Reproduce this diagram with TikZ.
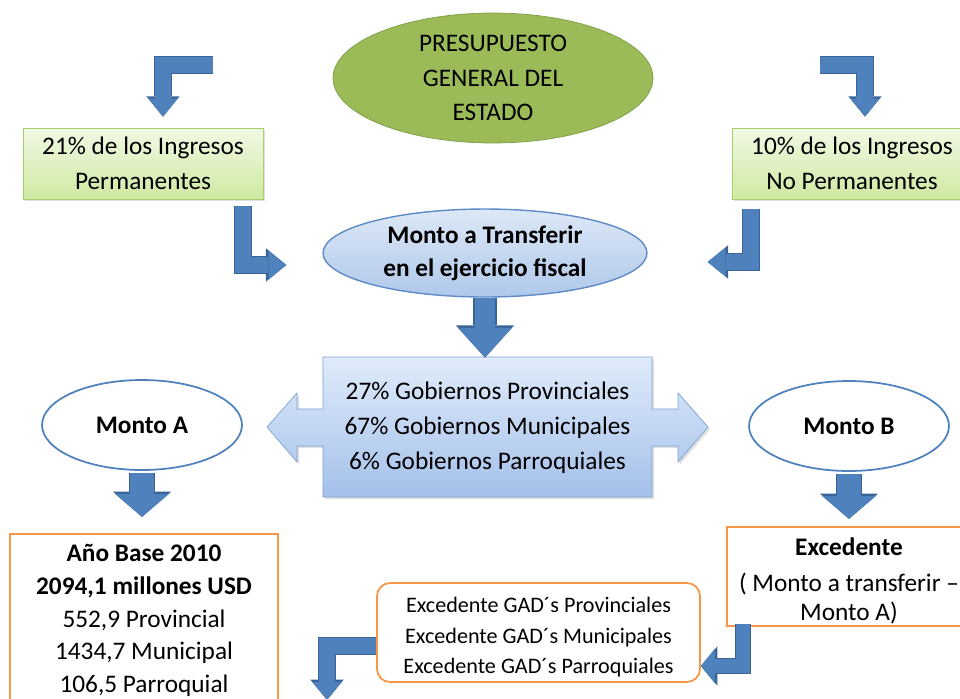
\documentclass[tikz,border=0pt]{standalone}
\usepackage{fontspec}
\setmainfont{Carlito}
\usetikzlibrary{arrows.meta,shapes.geometric,shadows,calc}

\definecolor{pgeFill}{HTML}{9BBB59}
\definecolor{pgeLine}{HTML}{7F9B45}
\definecolor{ingTop}{HTML}{F1F9E4}
\definecolor{ingBot}{HTML}{CFE9A2}
\definecolor{ingLine}{HTML}{A8CF6E}
\definecolor{mtTop}{HTML}{DDE8F7}
\definecolor{mtBot}{HTML}{AFC8EA}
\definecolor{mtLine}{HTML}{5F8BC7}
\definecolor{calTop}{HTML}{E0EBFA}
\definecolor{calBot}{HTML}{A4C0EA}
\definecolor{calLine}{HTML}{7DA2D6}
\definecolor{flechaAzul}{HTML}{4F81BD}
\definecolor{flechaBorde}{HTML}{3A6497}
\definecolor{naranja}{HTML}{F79646}

\tikzset{
  txt/.style={font=\fontsize{14.4}{19.8}\selectfont, align=center, inner sep=0pt},
  sombra/.style={drop shadow={shadow xshift=1.2pt, shadow yshift=-1.2pt, opacity=0.25}},
  ingreso/.style={txt, rectangle, draw=ingLine, top color=ingTop, bottom color=ingBot,
    minimum width=4.8cm, minimum height=1.42cm, sombra},
  monto/.style={txt, ellipse, draw=flechaAzul, line width=1pt, fill=white,
    minimum width=4cm, minimum height=1.8cm, font=\fontsize{14.4}{19.8}\bfseries},
  cuadro/.style={txt, rectangle, draw=naranja, line width=1pt, fill=white},
  flecha/.style n args={3}{draw=flechaAzul, line width=#1, line join=miter,
    -{Triangle[width=#2, length=#3, line width=0pt]},
    preaction={draw=flechaBorde, line width=#1+1.2pt, line join=miter,
      -{Triangle[width=#2+2.6pt, length=#3+1.4pt, line width=0pt]}}},
  flechaS/.style={flecha={9pt}{16.4pt}{10.2pt}},
  flechaT/.style={flecha={8pt}{19.8pt}{8pt}},
  flechaM/.style={flecha={11.9pt}{30.6pt}{17pt}},
  flechaL/.style={flecha={13.6pt}{30.6pt}{13pt}}
}

\begin{document}
\begin{tikzpicture}[x=0.02cm, y=-0.02cm]

  \useasboundingbox (0,0) rectangle (960,698);
  \clip (0,0) rectangle (960,698);

  % origen y entradas
  \node[txt, ellipse, draw=pgeLine, fill=pgeFill, minimum width=6.4cm, minimum height=2.6cm]
    (pge) at (493,78) {PRESUPUESTO\\GENERAL DEL\\ESTADO};
  \node[ingreso] (ingP) at (143,163.5) {21\% de los Ingresos\\Permanentes};
  \node[ingreso] (ingNP) at (852,163.5) {10\% de los Ingresos\\No Permanentes};
  \node[txt, ellipse, draw=mtLine, line width=0.8pt, top color=mtTop, bottom color=mtBot,
    minimum width=6.48cm, minimum height=1.76cm, font=\fontsize{14.4}{18.7}\bfseries]
    (monto) at (485,253) {Monto a Transferir\\en el ejercicio fiscal};

  % reparto
  \path[draw=calLine, top color=calTop, bottom color=calBot, sombra]
    (323,357) -- (652,357) -- (652,409) -- (678,409) -- (678,393) -- (708,427)
    -- (678,462) -- (678,446) -- (652,446) -- (652,497) -- (323,497) -- (323,446)
    -- (297,446) -- (297,462) -- (267,427) -- (297,393) -- (297,409) -- (323,409) -- cycle;
  \node[txt, minimum width=6.58cm, minimum height=2.8cm] (dist) at (487.5,428)
    {27\% Gobiernos Provinciales\\67\% Gobiernos Municipales\\6\% Gobiernos Parroquiales};
  \node[monto] (montoA) at (142,425) {Monto A};
  \node[monto] (montoB) at (849,426) {Monto B};

  % resultados
  \node[cuadro, minimum width=5.36cm, minimum height=3.46cm,
    font=\fontsize{14.4}{18.7}\selectfont] (anio) at (144,620.5)
    {\textbf{Año Base 2010}\\\textbf{2094,1 millones USD}\\552,9 Provincial\\1434,7 Municipal\\106,5 Parroquial};
  \node[cuadro, minimum width=4.88cm, minimum height=1.98cm,
    font=\fontsize{14.4}{16.5}\selectfont] (exced) at (849,576.5)
    {\rule{0pt}{15pt}\textbf{Excedente}\\[3.5pt]( Monto a transferir –\\Monto A)};
  \node[cuadro, rounded corners=0.26cm, minimum width=6.46cm, minimum height=1.98cm,
    font=\fontsize{12.6}{17.6}\selectfont] (gad) at (538.5,632.5)
    {\rule{0pt}{14pt}Excedente GAD´s Provinciales\\Excedente GAD´s Municipales\\Excedente GAD´s Parroquiales};
  \coordinate (salida) at (327,700);

  % flechas
  \draw[flechaS] ($(pge.west)+(-120,-13)$) -| ($(ingP.north)+(20,-11)$);
  \draw[flechaS] ($(pge.east)+(167,-13)$) -| ($(ingNP.north)+(13,-11)$);
  \draw[flechaS] ($(ingP.south)+(100,7)$) |- ($(monto.west)+(-36,12)$);
  \draw[flechaS] ($(ingNP.south)+(-101,10)$) |- ($(monto.east)+(60,9)$);
  \draw[flechaM] (monto.south) -- (monto.south |- dist.north);
  \draw[flechaL] ($(montoA.south)+(0,2)$) -- ++(0,44);
  \draw[flechaL] ($(montoB.south)+(0,2)$) -- ++(0,45);
  \draw[flechaT] ($(exced.south)+(-106,-3)$) |- ($(gad.east)+(0,33.5)$);
  \draw[flechaS] ($(gad.west)+(0,13.5)$) -| (salida);

\end{tikzpicture}
\end{document}
